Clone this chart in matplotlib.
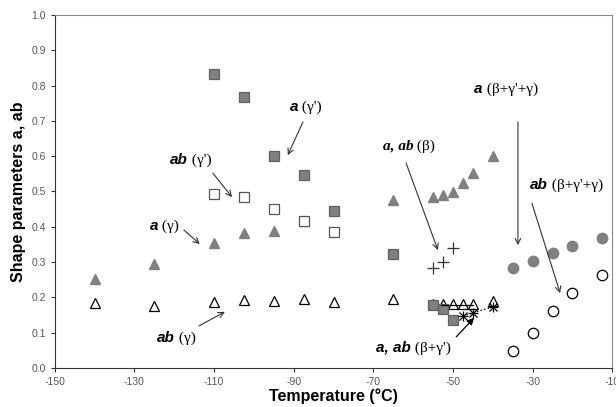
import matplotlib.pyplot as plt

plt.rcParams['font.family'] = ['Liberation Sans', 'DejaVu Sans']
plt.rcParams['axes.unicode_minus'] = False

# a (gamma') - filled squares
t_sq = [-110, -102.5, -95, -87.5, -80, -65, -55, -52.5, -50]
a_gp = [0.833, 0.768, 0.600, 0.547, 0.445, 0.323, 0.178, 0.167, 0.136]

# ab (gamma') - open squares
t_osq = [-110, -102.5, -95, -87.5, -80]
ab_gp = [0.493, 0.485, 0.450, 0.417, 0.385]

# a (gamma) - filled triangles
t_tri = [-140, -125, -110, -102.5, -95, -87.5, -65, -55, -52.5, -50, -47.5, -45, -40]
a_g = [0.253, 0.294, 0.353, 0.383, 0.389, 0.417, 0.476, 0.485, 0.490, 0.499, 0.524, 0.552, 0.600]

# ab (gamma) - open triangles
t_otri = [-140, -125, -110, -102.5, -95, -87.5, -80, -65, -55, -52.5, -50, -47.5, -45, -40]
ab_g = [0.184, 0.176, 0.187, 0.193, 0.190, 0.195, 0.187, 0.195, 0.180, 0.180, 0.180, 0.180, 0.180, 0.190]

# a, ab (beta) - crosses
t_b = [-55, -52.5, -50]
ab_b = [0.283, 0.300, 0.340]

# a, ab (beta+gamma') - line and asterisks
t_bgp_line = [-53, -45]
a_bgp = [0.177, 0.177]
t_bgp = [-47.5, -45, -40]
ab_bgp = [0.147, 0.156, 0.173]

# a / ab (beta+gamma'+gamma) - circles
t_c = [-35, -30, -25, -20, -12.5]
a_all = [0.283, 0.303, 0.326, 0.346, 0.369]
ab_all = [0.048, 0.100, 0.162, 0.212, 0.264]

# annotations: bold part, greek part, split point, arrow start, arrow end
labels = [
    ('a', "(γ')", (-88.9, 0.739), (-87.7, 0.697), (-91.5, 0.603)),
    ('ab', "(γ')", (-116.6, 0.589), (-110.3, 0.552), (-105.5, 0.484)),
    ('a', '(γ)', (-124.1, 0.402), (-117.6, 0.391), (-113.6, 0.351)),
    ('ab', '(γ)', (-119.8, 0.085), (-113.8, 0.119), (-107.3, 0.159)),
    ('a, ab', '(β)', (-60.0, 0.629), (-61.8, 0.581), (-53.8, 0.334)),
    ('a', "(β+γ'+γ)", (-42.5, 0.790), (-33.7, 0.697), (-33.7, 0.348)),
    ('ab', "(β+γ'+γ)", (-26.1, 0.518), (-30.2, 0.467), (-23.1, 0.212)),
    ('a, ab', "(β+γ')", (-60.6, 0.057), (-49.2, 0.088), (-44.7, 0.142)),
]

fig = plt.figure(figsize=(6.16, 4.07), dpi=100)
ax = fig.add_axes([0.089, 0.096, 0.905, 0.867])

fill = '#808080'
edge = '#606060'
ms = 7.5

ax.plot(t_otri, ab_g, '^', ms=ms, mfc='white', mec='black', mew=0.9, ls='none')
ax.plot(t_tri, a_g, '^', ms=ms, mfc=fill, mec=fill, ls='none')
ax.plot(t_osq, ab_gp, 's', ms=ms, mfc='white', mec='#555555', mew=0.9, ls='none')
ax.plot(t_sq, a_gp, 's', ms=ms, mfc=fill, mec=edge, mew=0.9, ls='none')
ax.plot(t_b, ab_b, '+', ms=9, mec='#333333', mew=0.9, ls='none')
ax.plot(t_bgp_line, a_bgp, '-', color='black', lw=0.9)
ax.plot(t_bgp, ab_bgp, 'x', ms=6, color='black', mew=0.9, ls=':', lw=1)
ax.plot(t_bgp, ab_bgp, '+', ms=7, color='black', mew=0.9, ls='none')
ax.plot(t_c, a_all, 'o', ms=ms, mfc=fill, mec=fill, ls='none')
ax.plot(t_c, ab_all, 'o', ms=ms, mfc='white', mec='black', mew=0.9, ls='none')

ax.set_xlim(-150, -10)
ax.set_ylim(0, 1.0)
ax.set_xticks(range(-150, -9, 20))
ax.set_yticks([i / 10 for i in range(11)])
ax.set_yticklabels([f'{i / 10:.1f}' for i in range(11)])
ax.tick_params(direction='out', length=3, labelsize=7.5, labelcolor='#555555', color='#333333')
for s in ['top', 'right']:
    ax.spines[s].set_color('#888888')
for s in ['left', 'bottom']:
    ax.spines[s].set_color('#333333')

ax.set_xlabel('Temperature (°C)', fontsize=11.5, fontweight='bold', labelpad=1)
ax.set_ylabel('Shape parameters a, ab', fontsize=11.5, fontweight='bold', labelpad=4)

serif = ['Liberation Serif', 'DejaVu Serif']
for bold, greek, (tx, ty), start, end in labels:
    fam = serif if bold == 'a, ab' and greek == '(β)' else None
    ax.text(tx, ty, bold, ha='right', va='center', fontsize=11, fontweight='bold',
            fontstyle='italic', family=fam)
    ax.text(tx, ty, ' ' + greek, ha='left', va='center', fontsize=11,
            family=serif)
    if greek == "(β+γ')":
        style = dict(arrowstyle='-|>', color='black', lw=0.9, shrinkA=0, shrinkB=0)
    else:
        style = dict(arrowstyle='->', color='#333333', lw=0.8, shrinkA=0, shrinkB=0)
    ax.annotate('', xy=end, xytext=start, arrowprops=style)

fig.savefig('out.png', dpi=100)
